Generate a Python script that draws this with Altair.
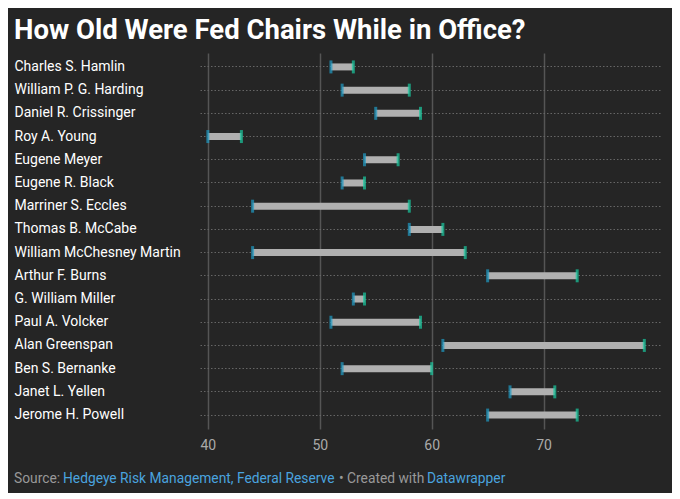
import altair as alt
import pandas as pd

names = ["Charles S. Hamlin","William P. G. Harding","Daniel R. Crissinger","Roy A. Young","Eugene Meyer","Eugene R. Black","Marriner S. Eccles","Thomas B. McCabe","William McChesney Martin","Arthur F. Burns","G. William Miller","Paul A. Volcker","Alan Greenspan","Ben S. Bernanke","Janet L. Yellen","Jerome H. Powell"]
start = [51,52,55,40,54,52,44,58,44,65,53,51,61,52,67,65]
end   = [53,58,59,43,57,54,58,61,63,73,54,59,79,60,71,73]

df = pd.DataFrame({"name": names, "start": start, "end": end})
X = alt.Scale(domain=[39.3, 80.4], nice=False, zero=False)
Y = alt.Y("name:N", sort=names, title=None,
          scale=alt.Scale(paddingInner=0, paddingOuter=0.1),
          axis=alt.Axis(labelAlign="left", labelPadding=186, labelFontSize=14, labelColor="#ffffff",
                        labelFont="Roboto", ticks=False, domain=False, grid=True, bandPosition=0.5,
                        gridColor="#666666", gridDash=[1.5, 2], gridWidth=1))
xaxis = alt.Axis(values=[40,50,60,70], title=None, grid=True, gridColor="#555555", gridWidth=1.5,
                 domain=False, ticks=False, labelColor="#aaaaaa", labelFontSize=14, labelFont="Roboto", labelPadding=9)

bars = alt.Chart(df).mark_rule(strokeWidth=7, color="#b0b0b0").encode(
    x=alt.X("start:Q", scale=X, axis=xaxis), x2="end:Q", y=Y)
c1 = alt.Chart(df).mark_tick(orient="vertical", size=13, thickness=3, color="#1f9bc4").encode(
    x=alt.X("start:Q", scale=X), y=alt.Y("name:N", sort=names))
c2 = alt.Chart(df).mark_tick(orient="vertical", size=13, thickness=3, color="#19c9a0").encode(
    x=alt.X("end:Q", scale=X), y=alt.Y("name:N", sort=names))

foot_t = ["Source: ", "Hedgeye Risk Management, Federal Reserve", "• Created with", "Datawrapper"]
foot_x = [-186, -137, 139, 227]
foot_c = ["#999999", "#4aa3df", "#999999", "#4aa3df"]
footers = [alt.Chart(pd.DataFrame({"t": [foot_t[i]]})).mark_text(
               align="left", baseline="middle", fontSize=13.8, font="Roboto",
               color=foot_c[i], dx=foot_x[i]).encode(x=alt.value(0), y=alt.value(426), text="t:N")
           for i in range(4)]

chart = alt.layer(bars, c1, c2, *footers).properties(
    width=460, height=376,
    background="#252525",
    autosize=alt.AutoSizeParams(type="none"),
    padding={"left": 192, "top": 45, "right": 12, "bottom": 64},
    title=alt.TitleParams("How Old Were Fed Chairs While in Office?", anchor="start", frame="bounds",
                          fontSize=27.5, font="Roboto", fontWeight="bold", color="#ffffff", offset=9),
).configure_view(stroke=None)

chart.save("out.html", embed_options={"renderer": "svg", "actions": False})
